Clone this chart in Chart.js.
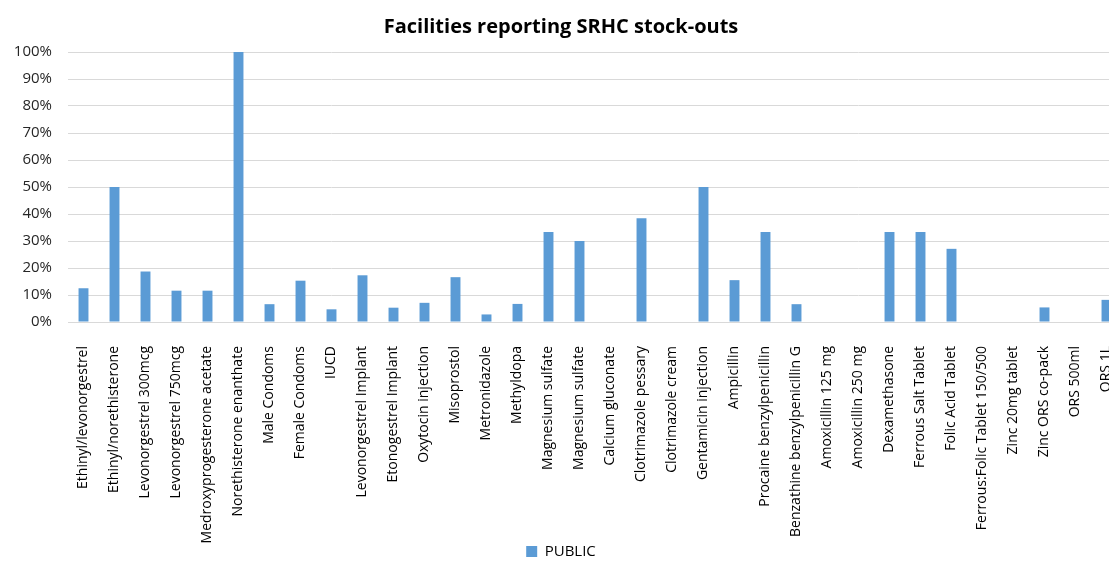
<!DOCTYPE html>
<html lang="en">
<head>
  <meta charset="UTF-8" />
  <title>Facilities reporting SRHC stock-outs</title>
  <script src="https://cdn.jsdelivr.net/npm/chart.js"></script>
  <style>
    body {
      margin: 0;
      padding: 0;
      background: #ffffff;
      overflow: hidden;
    }
    canvas {
      display: block;
    }
  </style>
</head>
<body>
  <canvas id="stockChart" width="1142" height="561"></canvas>

  <script>
    const products = [
      'Ethinyl/levonorgestrel', 'Ethinyl/norethisterone', 'Levonorgestrel 300mcg',
      'Levonorgestrel 750mcg', 'Medroxyprogesterone acetate', 'Norethisterone enanthate',
      'Male Condoms', 'Female Condoms', 'IUCD', 'Levonorgestrel Implant',
      'Etonogestrel Implant', 'Oxytocin injection', 'Misoprostol', 'Metronidazole',
      'Methyldopa', 'Magnesium sulfate', 'Magnesium sulfate', 'Calcium gluconate',
      'Clotrimazole pessary', 'Clotrimazole cream', 'Gentamicin injection', 'Ampicillin',
      'Procaine benzylpenicillin', 'Benzathine benzylpenicillin G', 'Amoxicillin 125 mg',
      'Amoxicillin 250 mg', 'Dexamethasone', 'Ferrous Salt Tablet', 'Folic Acid Tablet',
      'Ferrous:Folic Tablet 150/500', 'Zinc 20mg tablet', 'Zinc ORS co-pack',
      'ORS 500ml', 'ORS 1L'
    ];

    // % of public facilities reporting a stock-out
    const publicPct = [
      12.5, 50, 18.7, 11.6, 11.6, 100,
      6.6, 15.3, 4.7, 17.3,
      5.3, 7.1, 16.6, 2.8,
      6.7, 33.3, 30, 0,
      38.4, 0, 50, 15.5,
      33.3, 6.6, 0,
      0, 33.3, 33.3, 27.1,
      0, 0, 5.4,
      0, 8.2
    ];

    const yTicks = [0, 10, 20, 30, 40, 50, 60, 70, 80, 90, 100];

    const font = "'Open Sans', 'Liberation Sans', sans-serif";

    // long x labels run down into the legend strip, so stretch the label clip box to the canvas edge
    const labelRoom = {
      id: 'labelRoom',
      afterLayout(chart) {
        chart.scales.x.bottom = chart.height;
      }
    };

    new Chart(document.getElementById('stockChart'), {
      type: 'bar',
      data: {
        labels: products,
        datasets: [{
          label: 'PUBLIC',
          data: publicPct,
          backgroundColor: '#5b9bd5',
          barPercentage: 0.64,
          categoryPercentage: 0.5
        }]
      },
      options: {
        responsive: false,
        animation: false,
        // negative bottom padding pushes the legend down to the edge, like the original
        layout: { padding: { left: 0, right: 20, top: 0, bottom: -8 } },
        plugins: {
          title: {
            display: true,
            text: 'Facilities reporting SRHC stock-outs',
            color: '#000000',
            font: { family: font, size: 20, weight: 'bold' },
            padding: { top: 15, bottom: 13 }
          },
          legend: {
            position: 'bottom',
            labels: {
              color: '#000000',
              font: { family: font, size: 15 },
              boxWidth: 11,
              boxHeight: 11,
              padding: 3
            }
          },
          tooltip: { enabled: false }
        },
        scales: {
          x: {
            grid: { display: false },
            border: { color: '#d9d9d9' },
            ticks: {
              color: '#000000',
              font: { family: font, size: 14 },
              maxRotation: 90,
              minRotation: 90,
              autoSkip: false,
              padding: 16
            },
            afterFit: (scale) => { scale.height = 219; }
          },
          y: {
            min: 0,
            max: 100,
            afterBuildTicks: (scale) => {
              scale.ticks = yTicks.map(v => ({ value: v }));
            },
            grid: { color: '#d9d9d9', drawTicks: false },
            border: { display: false },
            ticks: {
              color: '#262626',
              font: { family: font, size: 15 },
              padding: 16,
              callback: (v) => v + '%'
            },
            afterFit: (scale) => { scale.width = 68; }
          }
        }
      },
      plugins: [labelRoom]
    });
  </script>
</body>
</html>
